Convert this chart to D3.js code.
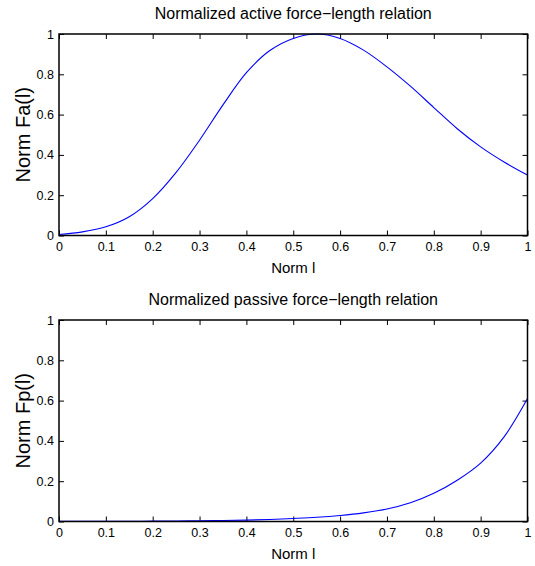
<!DOCTYPE html>
<html>
<head>
<meta charset="utf-8">
<script src="https://cdn.jsdelivr.net/npm/d3@7"></script>
<style>
  body { margin: 0; background: #fff; }
  svg text { font-family: "Liberation Sans", Arial, sans-serif; fill: #000; }
</style>
</head>
<body>
<svg id="chart" width="535" height="566"></svg>
<script>
// normalized length samples
let lengths = [0, 0.05, 0.1, 0.15, 0.2, 0.25, 0.3, 0.35, 0.4, 0.45, 0.5,
               0.55, 0.6, 0.65, 0.7, 0.75, 0.8, 0.85, 0.9, 0.95, 1];
// active force
let activeForce = [0.005, 0.018, 0.043, 0.093, 0.183, 0.313, 0.473, 0.648, 0.808, 0.918, 0.978,
                   1.0, 0.978, 0.92, 0.837, 0.741, 0.635, 0.53, 0.44, 0.365, 0.30];
// passive force
let passiveForce = [0.0004, 0.0006, 0.0009, 0.0012, 0.0017, 0.0025, 0.0035, 0.005, 0.007, 0.010, 0.015,
                    0.021, 0.03, 0.043, 0.062, 0.093, 0.14, 0.205, 0.29, 0.42, 0.61];
let xTicks = [0, 0.1, 0.2, 0.3, 0.4, 0.5, 0.6, 0.7, 0.8, 0.9, 1];
let yTicks = [0, 0.2, 0.4, 0.6, 0.8, 1];

let chart = d3.select("#chart");

function draw_panel(top, title, ylabel, values) {
    let left = 59, right = 527.5, bottom = top + 201.5;

    let x = d3.scaleLinear().domain([0, 1]).range([left, right]);
    let y = d3.scaleLinear().domain([0, 1]).range([bottom, top]);
    let fmt = function(d) { return d3.format("")(+d.toFixed(1)); };

    let g = chart.append("g");

    // bottom axis with labels, ticks pointing inward
    g.append("g")
        .attr("transform", "translate(0," + bottom + ")")
        .call(d3.axisBottom(x).tickValues(xTicks).tickFormat(fmt).tickSizeInner(-5).tickSizeOuter(0).tickPadding(7))
        .call(ax => ax.select(".domain").remove())
        .call(ax => ax.selectAll("text").style("font-size", "12.5px"));
    // top mirror ticks
    g.append("g")
        .attr("transform", "translate(0," + top + ")")
        .call(d3.axisTop(x).tickValues(xTicks).tickFormat("").tickSizeInner(-5).tickSizeOuter(0))
        .call(ax => ax.select(".domain").remove());
    // left axis
    g.append("g")
        .attr("transform", "translate(" + left + ",0)")
        .call(d3.axisLeft(y).tickValues(yTicks).tickFormat(fmt).tickSizeInner(-5).tickSizeOuter(0).tickPadding(5))
        .call(ax => ax.select(".domain").remove())
        .call(ax => ax.selectAll("text").style("font-size", "12.5px"));
    // right mirror ticks
    g.append("g")
        .attr("transform", "translate(" + right + ",0)")
        .call(d3.axisRight(y).tickValues(yTicks).tickFormat("").tickSizeInner(-5).tickSizeOuter(0))
        .call(ax => ax.select(".domain").remove());

    g.selectAll(".tick line").attr("stroke", "#000").attr("stroke-width", 1);

    // the curve
    let line = d3.line()
        .x(function(d, i) { return x(lengths[i]); })
        .y(function(d) { return y(d); })
        .curve(d3.curveCatmullRom);
    g.append("path")
        .datum(values)
        .attr("d", line)
        .attr("fill", "none")
        .attr("stroke", "#0000ff")
        .attr("stroke-width", 1.1);

    // frame
    g.append("rect")
        .attr("x", left).attr("y", top)
        .attr("width", right - left).attr("height", bottom - top)
        .attr("fill", "none")
        .attr("stroke", "#000")
        .attr("stroke-width", 1.5);

    g.append("text")
        .text(title)
        .attr("x", (left + right) / 2)
        .attr("y", top - 15.5)
        .style("font-size", "16px")
        .style("text-anchor", "middle");

    g.append("text")
        .text("Norm l")
        .attr("x", (left + right) / 2)
        .attr("y", bottom + 37)
        .style("font-size", "15px")
        .style("text-anchor", "middle");

    g.append("text")
        .text(ylabel)
        .attr("transform", "translate(30," + ((top + bottom) / 2) + ") rotate(-90)")
        .style("font-size", "20px")
        .style("text-anchor", "middle");
}

draw_panel(34, "Normalized active force\u2212length relation", "Norm Fa(l)", activeForce);
draw_panel(320, "Normalized passive force\u2212length relation", "Norm Fp(l)", passiveForce);
</script>
</body>
</html>
